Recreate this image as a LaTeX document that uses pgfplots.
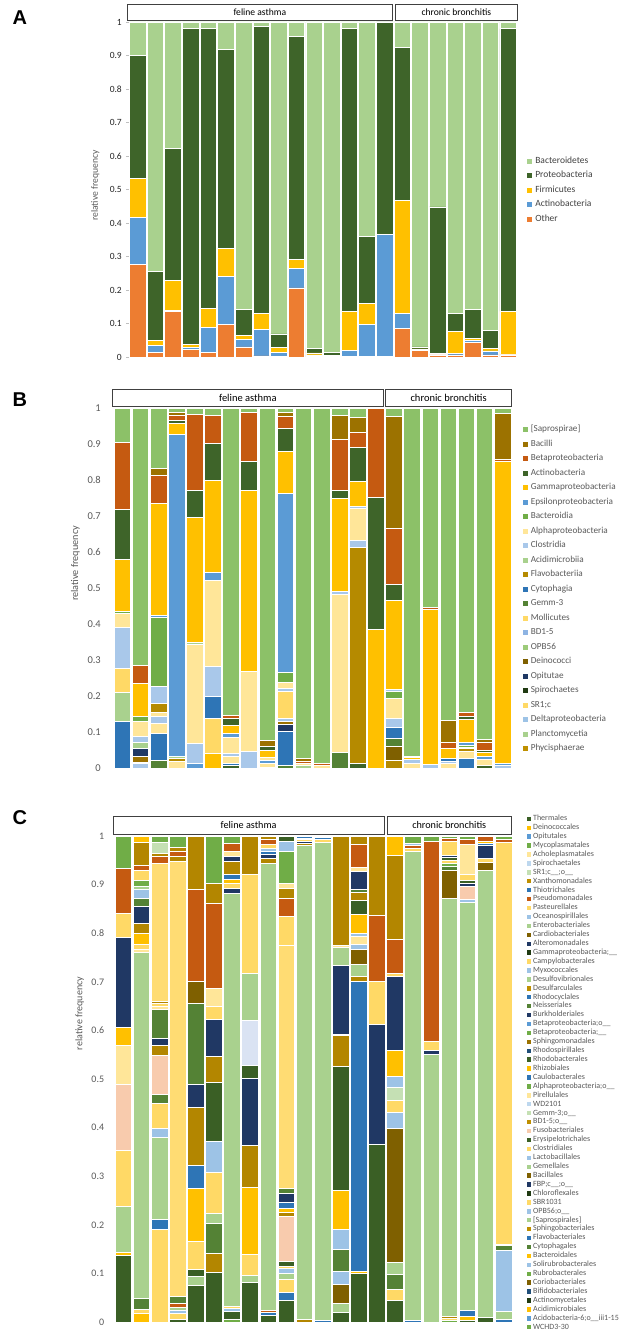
\documentclass[border=0pt]{standalone}
\usepackage{fontspec}
\setmainfont{Carlito}
\newfontfamily\labfont{Liberation Sans}
\usepackage{pgfplots}
\usepackage{pgfplotstable}
\pgfplotsset{compat=1.18}

% panel A
\definecolor{aBac}{HTML}{A9D18E}
\definecolor{aPro}{HTML}{3E6429}
\definecolor{aFir}{HTML}{FFC000}
\definecolor{aAct}{HTML}{5B9BD5}
\definecolor{aOth}{HTML}{ED7D31}
% panel B
\definecolor{bS}{HTML}{8CC168}
\definecolor{bBa}{HTML}{9C7200}
\definecolor{bBe}{HTML}{C55A11}
\definecolor{bAc}{HTML}{3E6429}
\definecolor{bGa}{HTML}{FFC000}
\definecolor{bEp}{HTML}{5B9BD5}
\definecolor{bBd}{HTML}{70AD47}
\definecolor{bAl}{HTML}{FFE699}
\definecolor{bCl}{HTML}{A9C8EA}
\definecolor{bAm}{HTML}{A9D18E}
\definecolor{bFl}{HTML}{B58A00}
\definecolor{bCy}{HTML}{2E75B6}
\definecolor{bGe}{HTML}{548235}
\definecolor{bMo}{HTML}{FFD966}
\definecolor{bBD}{HTML}{8EB4E3}
\definecolor{bOP}{HTML}{9DCB7A}
\definecolor{bDe}{HTML}{7F6000}
\definecolor{bOp}{HTML}{1F3864}
\definecolor{bSp}{HTML}{203A12}
\definecolor{bDl}{HTML}{9DC3E6}
\definecolor{bPh}{HTML}{BF9000}
% panel C
\definecolor{cLG}{HTML}{A9D18E}
\definecolor{cYl}{HTML}{FFD966}
\definecolor{cYa}{HTML}{FFDC73}
\definecolor{cGo}{HTML}{FFC000}
\definecolor{cNv}{HTML}{203864}
\definecolor{cDG}{HTML}{3A5F25}
\definecolor{cMG}{HTML}{548235}
\definecolor{cGr}{HTML}{70AD47}
\definecolor{cOr}{HTML}{C55A11}
\definecolor{cBr}{HTML}{B38600}
\definecolor{cBD}{HTML}{7F6000}
\definecolor{cPk}{HTML}{F8CBAD}
\definecolor{cLv}{HTML}{DAE3F3}
\definecolor{cBl}{HTML}{2E75B6}
\definecolor{cLB}{HTML}{9DC3E6}
\definecolor{cPY}{HTML}{FFE699}
\definecolor{cSG}{HTML}{C5E0B4}
\definecolor{cVD}{HTML}{203A12}
\definecolor{cBu}{HTML}{5B9BD5}
\definecolor{cPB}{HTML}{BDD7EE}
\definecolor{cDY}{HTML}{BF8F00}
\definecolor{cSt}{HTML}{1F4E79}
\definecolor{cOl}{HTML}{9C7200}
\definecolor{txt}{HTML}{595959}

\pgfplotsset{
  panel/.style={
    scale only axis, anchor=south west,
    xmin=-0.5, xmax=21.5, ymin=0, ymax=1,
    xtick=\empty, ytick={0,0.1,0.2,0.3,0.4,0.5,0.6,0.7,0.8,0.9,1},
    axis line style={draw=none}, major tick length=0pt,
    /pgf/number format/assume math mode=true,
    yticklabel style={anchor=east, inner sep=0pt, text=txt},
    clip=false, legend cell align=left,
  },
  seg/.style={ybar, bar shift=0pt, draw=white, line width=0.7pt, forget plot},
}

% one bar: list of colour/cumulative top, from the top segment down
\newcommand\stk[2]{%
  \foreach \c/\t in {#2}{%
    \edef\tmp{\noexpand\addplot[seg,fill=\c] coordinates {(#1,\t)};}\tmp}}
\newcommand\leg[2]{\addlegendimage{legend image code/.code={\fill[#1] (0pt,-1.9pt) rectangle (3.9pt,1.9pt);}}\addlegendentry{#2}}
\newcommand\legc[2]{\addlegendimage{legend image code/.code={\fill[#1] (0pt,-1.7pt) rectangle (3.4pt,1.7pt);}}\addlegendentry{#2}}

% panel A: phyla, bottom to top
\pgfplotstableread{
bar oth  act  fir  pro  bac
0   .277 .140 .116 .366 .101
1   .014 .020 .015 .206 .745
2   .136 .002 .091 .393 .378
3   .022 .007 .008 .943 .020
4   .014 .073 .058 .835 .020
5   .097 .144 .084 .593 .082
6   .030 .022 .012 .079 .857
7   .003 .080 .048 .857 .012
8   .002 .012 .015 .040 .931
9   .206 .059 .027 .666 .042
10  .002 .004 .006 .014 .974
11  .001 .001 .002 .010 .986
12  .002 .018 .115 .845 .020
13  .002 .094 .064 .199 .641
14  .002 .363 .001 .634 .000
15  .085 .045 .338 .455 .077
16  .020 .002 .002 .006 .970
17  .006 .002 .002 .438 .552
18  .006 .004 .067 .054 .869
19  .044 .006 .005 .088 .857
20  .006 .012 .008 .054 .920
21  .006 .001 .129 .844 .020
}\tabA

\begin{document}
\begin{tikzpicture}
\path[use as bounding box] (0,0) rectangle (624pt,1335pt);

% ---------------- A ----------------
\begin{axis}[panel, at={(129pt,978pt)}, width=388pt, height=335pt,
  ybar stacked, bar width=16.5pt,
  axis x line=none, axis y line*=left,
  y axis line style={draw=black!25}, ytick style={draw=black!25},
  major tick length=3pt, tick align=outside,
  yticklabel style={font=\fontsize{9.5}{11}\selectfont, text=black!85, xshift=-4pt},
  legend style={at={(1.0265,0.4985)}, anchor=west, draw=none, fill=none, inner sep=0pt,
    font=\fontsize{9.5}{11}\selectfont, text=black!75, row sep=5.5pt, column sep=3.5pt,
    nodes={inner sep=0pt, text height=7pt, text depth=2pt}},
]
\addplot[fill=aOth, draw=white, line width=0.7pt, forget plot] table[x=bar,y=oth] {\tabA};
\addplot[fill=aAct, draw=white, line width=0.7pt, forget plot] table[x=bar,y=act] {\tabA};
\addplot[fill=aFir, draw=white, line width=0.7pt, forget plot] table[x=bar,y=fir] {\tabA};
\addplot[fill=aPro, draw=white, line width=0.7pt, forget plot] table[x=bar,y=pro] {\tabA};
\addplot[fill=aBac, draw=white, line width=0.7pt, forget plot] table[x=bar,y=bac] {\tabA};
\leg{aBac}{Bacteroidetes}
\leg{aPro}{Proteobacteria}
\leg{aFir}{Firmicutes}
\leg{aAct}{Actinobacteria}
\leg{aOth}{Other}
\end{axis}

% ---------------- B ----------------
\begin{axis}[panel, at={(113.3pt,567pt)}, width=398.4pt, height=359.5pt,
  bar width=16.6pt,
  yticklabel style={font=\fontsize{10.5}{12}\selectfont, xshift=-12.3pt},
  legend style={at={(1.029,0.498)}, anchor=west, draw=none, fill=none, inner sep=0pt,
    font=\fontsize{9.2}{11}\selectfont, text=txt, row sep=5.5pt, column sep=3pt,
    nodes={inner sep=0pt, text height=7pt, text depth=2pt}},
]
\stk{0}{bS/1, bBe/.905, bAc/.720, bGa/.580, bBd/.437, bAl/.431, bCl/.392, bMo/.276, bAm/.2115, bCy/.131}
\stk{1}{bS/1, bBe/.286, bGa/.235, bBd/.143, bAl/.131, bCl/.088, bAm/.072, bOp/.054, bBa/.031, bAl/.017, bCl/.012}
\stk{2}{bS/1, bBa/.833, bBe/.813, bGa/.736, bEp/.425, bBd/.418, bCl/.227, bFl/.179, bAl/.156, bCl/.144, bAl/.123, bCy/.097, bGe/.021}
\stk{3}{bS/1, bBa/.989, bBe/.980, bAc/.966, bGa/.960, bEp/.929, bAm/.032, bFl/.026, bAl/.019}
\stk{4}{bS/1, bBe/.984, bAc/.771, bGa/.697, bAm/.349, bAl/.344, bCl/.068, bEp/.012}
\stk{5}{bS/1, bBe/.980, bAc/.904, bGa/.801, bEp/.544, bAl/.522, bCl/.283, bCy/.198, bMo/.137, bGa/.040}
\stk{6}{bS/1, bBe/.147, bAc/.137, bGa/.119, bEp/.096, bAl/.086, bCl/.040, bAl/.032, bCy/.012, bAc/.006}
\stk{7}{bS/1, bBe/.989, bAc/.852, bGa/.771, bAl/.269, bCl/.045}
\stk{8}{bS/1, bBa/.077, bAc/.061, bGa/.049, bAl/.029, bEp/.021, bAl/.012, bFl/.003}
\stk{9}{bS/1, bBa/.989, bBe/.979, bAc/.944, bGa/.882, bEp/.763, bBd/.265, bAl/.239, bCl/.221, bMo/.213, bCl/.139, bBa/.131, bOp/.122, bCy/.103, bGe/.007}
\stk{10}{bS/1, bBa/.026, bBe/.019, bAl/.014, bAm/.007}
\stk{11}{bS/1, bBe/.012, bAl/.007}
\stk{12}{bS/1, bBa/.980, bBe/.914, bAc/.771, bGa/.750, bCl/.490, bAl/.483, bGe/.043}
\stk{13}{bS/1, bBa/.975, bBe/.933, bAc/.891, bGa/.796, bCl/.728, bAl/.722, bCl/.634, bFl/.615, bAc/.012}
\stk{14}{bBe/1, bAc/.752, bGa/.386}
\stk{15}{bS/1, bBa/.977, bBe/.666, bAc/.511, bGa/.467, bCl/.218, bBd/.214, bAl/.193, bCl/.137, bCy/.112, bGe/.0835, bDe/.060, bFl/.021}
\stk{16}{bS/1, bAl/.033, bGa/.029, bCl/.024, bAl/.012}
\stk{17}{bS/1, bBe/.448, bGa/.441, bCl/.010}
\stk{18}{bS/1, bBa/.133, bBe/.070, bGa/.056, bCy/.026, bCl/.019, bAl/.012}
\stk{19}{bS/1, bBe/.156, bAc/.144, bGa/.136, bEp/.072, bBd/.063, bAm/.058, bFl/.054, bAl/.045, bCy/.026}
\stk{20}{bS/1, bBa/.080, bBe/.071, bAc/.049, bGa/.043, bEp/.031, bAl/.024, bAc/.007}
\stk{21}{bS/1, bBa/.986, bBe/.859, bGa/.852, bEp/.012, bCl/.006}
\leg{bS}{\relax[Saprospirae]}
\leg{bBa}{Bacilli}
\leg{bBe}{Betaproteobacteria}
\leg{bAc}{Actinobacteria}
\leg{bGa}{Gammaproteobacteria}
\leg{bEp}{Epsilonproteobacteria}
\leg{bBd}{Bacteroidia}
\leg{bAl}{Alphaproteobacteria}
\leg{bCl}{Clostridia}
\leg{bAm}{Acidimicrobiia}
\leg{bFl}{Flavobacteriia}
\leg{bCy}{Cytophagia}
\leg{bGe}{Gemm-3}
\leg{bMo}{Mollicutes}
\leg{bBD}{BD1-5}
\leg{bOP}{OPB56}
\leg{bDe}{Deinococci}
\leg{bOp}{Opitutae}
\leg{bSp}{Spirochaetes}
\leg{bMo}{SR1;c}
\leg{bDl}{Deltaproteobacteria}
\leg{bAm}{Planctomycetia}
\leg{bPh}{Phycisphaerae}
\end{axis}

% ---------------- C ----------------
\begin{axis}[panel, at={(114.3pt,13pt)}, width=398.4pt, height=486pt,
  bar width=16.6pt,
  yticklabel style={font=\fontsize{10}{12}\selectfont, xshift=-10pt},
  legend style={at={(1.035,0.5128)}, anchor=west, draw=none, fill=none, inner sep=0pt,
    font=\fontsize{8}{9}\selectfont, text=txt, row sep=1.12pt, column sep=2.5pt,
    nodes={inner sep=0pt, text height=6pt, text depth=1.8pt}},
]
\stk{0}{cGr/1, cOr/.934, cYl/.841, cNv/.791, cGo/.607, cPY/.569, cPk/.488, cYl/.353, cLG/.238, cGo/.144, cDG/.137}
\stk{1}{cGo/1, cBr/.987, cOr/.940, cYl/.929, cGr/.909, cLG/.896, cLB/.890, cMG/.872, cNv/.856, cBr/.821, cGo/.800, cYl/.778, cPY/.767, cLG/.760, cMG/.048, cYl/.026, cGo/.018}
\stk{2}{cGr/1, cSG/.987, cBr/.965, cOr/.959, cYa/.943, cBr/.660, cYl/.655, cPY/.649, cMG/.643, cNv/.584, cBr/.570, cPk/.549, cMG/.469, cYl/.449, cLB/.398, cLG/.380, cBl/.211, cYl/.190}
\stk{3}{cGr/1, cBr/.977, cOr/.969, cBr/.958, cYa/.947, cMG/.053, cOr/.039, cLG/.031, cLB/.024, cYl/.017, cDG/.006}
\stk{4}{cBr/1, cOr/.890, cBD/.700, cMG/.656, cNv/.488, cBr/.442, cBl/.322, cGo/.275, cYl/.166, cDG/.109, cLG/.093, cDG/.075}
\stk{5}{cGr/1, cBr/.903, cOr/.861, cPY/.687, cYl/.649, cNv/.622, cBr/.547, cDG/.493, cLB/.371, cYl/.307, cLG/.224, cMG/.202, cBr/.142, cDG/.102}
\stk{6}{cGr/1, cOr/.985, cPY/.968, cNv/.958, cBr/.948, cBl/.921, cGo/.911, cYl/.902, cNv/.893, cLG/.883, cYl/.033, cLB/.028, cDG/.022, cGr/.006}
\stk{7}{cBr/1, cYl/.922, cLG/.718, cLv/.620, cDG/.529, cNv/.501, cBr/.364, cGo/.278, cYl/.140, cLG/.097, cDG/.082}
\stk{8}{cBr/1, cOr/.994, cYl/.982, cLB/.975, cBl/.969, cNv/.962, cBr/.953, cLG/.943, cOr/.024, cBl/.020, cDG/.013}
\stk{9}{cDG/1, cLB/.989, cGr/.969, cPY/.903, cBr/.892, cOr/.872, cYl/.834, cYa/.775, cMG/.275, cNv/.265, cBl/.247, cGo/.233, cBr/.226, cPk/.218, cDG/.124, cYl/.115, cLB/.110, cLG/.100, cYl/.087, cBl/.060, cDG/.044}
\stk{10}{cBl/1, cNv/.996, cYl/.993, cNv/.990, cBr/.985, cLG/.980, cBr/.006}
\stk{11}{cYl/1, cBl/.998, cYl/.994, cLG/.987, cBl/.004}
\stk{12}{cBr/1, cPY/.776, cLG/.771, cNv/.733, cLB/.592, cBr/.589, cDG/.527, cGo/.270, cLB/.191, cMG/.149, cLB/.104, cBD/.078, cLG/.039, cDG/.019}
\stk{13}{cBr/1, cOr/.983, cPY/.936, cNv/.927, cMG/.890, cBr/.885, cDG/.868, cGo/.838, cLB/.800, cPY/.794, cLB/.778, cBD/.767, cLG/.735, cBr/.711, cBl/.700, cGo/.104, cDG/.100}
\stk{14}{cBr/1, cOr/.836, cYl/.700, cNv/.613, cDG/.366}
\stk{15}{cGo/1, cBr/.960, cOr/.787, cYl/.718, cNv/.712, cGo/.558, cLB/.505, cSG/.482, cYl/.456, cLB/.431, cBD/.398, cLG/.122, cMG/.098, cYl/.068, cDG/.044}
\stk{16}{cGr/1, cLB/.984, cOr/.980, cYl/.975, cLG/.969, cBl/.004}
\stk{17}{cGr/1, cOr/.990, cYl/.578, cNv/.558, cLG/.551}
\stk{18}{cGr/1, cOr/.996, cYl/.990, cNv/.960, cDG/.956, cYl/.950, cGr/.943, cMG/.937, cBD/.930, cLG/.871, cBr/.012, cYl/.008, cGr/.004}
\stk{19}{cGr/1, cOr/.994, cPY/.983, cYl/.922, cDG/.909, cNv/.903, cPk/.897, cLB/.869, cLG/.864, cBl/.024, cGo/.012, cDG/.004}
\stk{20}{cOr/1, cGo/.990, cBl/.985, cNv/.980, cYl/.955, cBD/.945, cLG/.930, cDG/.009}
\stk{21}{cGr/1, cOr/.994, cYl/.987, cDG/.160, cMG/.157, cLB/.148, cLG/.022, cBl/.006}
\legc{cDG}{Thermales}
\legc{cGo}{Deinococcales}
\legc{cBu}{Opitutales}
\legc{cGr}{Mycoplasmatales}
\legc{cPY}{Acholeplasmatales}
\legc{cPB}{Spirochaetales}
\legc{cSG}{SR1;c\_\_;o\_\_}
\legc{cDY}{Xanthomonadales}
\legc{cBl}{Thiotrichales}
\legc{cOr}{Pseudomonadales}
\legc{cYl}{Pasteurellales}
\legc{cLB}{Oceanospirillales}
\legc{cLG}{Enterobacteriales}
\legc{cBD}{Cardiobacteriales}
\legc{cNv}{Alteromonadales}
\legc{cVD}{Gammaproteobacteria;\_\_}
\legc{cYl}{Campylobacterales}
\legc{cLB}{Myxococcales}
\legc{cLG}{Desulfovibrionales}
\legc{cDY}{Desulfarculales}
\legc{cBl}{Rhodocyclales}
\legc{cMG}{Neisseriales}
\legc{cNv}{Burkholderiales}
\legc{cBu}{Betaproteobacteria;o\_\_}
\legc{cGr}{Betaproteobacteria;\_\_}
\legc{cOl}{Sphingomonadales}
\legc{cSt}{Rhodospirillales}
\legc{cDG}{Rhodobacterales}
\legc{cGo}{Rhizobiales}
\legc{cBl}{Caulobacterales}
\legc{cGr}{Alphaproteobacteria;o\_\_}
\legc{cPY}{Pirellulales}
\legc{cPB}{WD2101}
\legc{cSG}{Gemm-3;o\_\_}
\legc{cDY}{BD1-5;o\_\_}
\legc{cPk}{Fusobacteriales}
\legc{cDG}{Erysipelotrichales}
\legc{cYl}{Clostridiales}
\legc{cLB}{Lactobacillales}
\legc{cLG}{Gemellales}
\legc{cBD}{Bacillales}
\legc{cNv}{FBP;c\_\_;o\_\_}
\legc{cVD}{Chloroflexales}
\legc{cYl}{SBR1031}
\legc{cLB}{OPB56;o\_\_}
\legc{cLG}{\relax[Saprospirales]}
\legc{cDY}{Sphingobacteriales}
\legc{cBl}{Flavobacteriales}
\legc{cMG}{Cytophagales}
\legc{cGo}{Bacteroidales}
\legc{cLB}{Solirubrobacterales}
\legc{cGr}{Rubrobacterales}
\legc{cBD}{Coriobacteriales}
\legc{cSt}{Bifidobacteriales}
\legc{cVD}{Actinomycetales}
\legc{cGo}{Acidimicrobiales}
\legc{cBu}{Acidobacteria-6;o\_\_iii1-15}
\legc{cGr}{WCHD3-30}
\end{axis}

% group boxes
\tikzset{grp/.style={draw=black!75, line width=0.8pt}}
\draw[grp] (127.7pt,1315pt) rectangle (392pt,1331pt);
\draw[grp] (395pt,1315pt) rectangle (517.7pt,1331pt);
\node[font=\fontsize{9.6}{11}\selectfont] at (259.85pt,1323pt) {feline asthma};
\node[font=\fontsize{9.6}{11}\selectfont] at (456.35pt,1323pt) {chronic bronchitis};
\draw[grp] (112.7pt,929pt) rectangle (383pt,945.7pt);
\draw[grp] (385.5pt,929pt) rectangle (511.7pt,945.7pt);
\node[font=\fontsize{10.5}{12}\selectfont] at (247.85pt,937.35pt) {feline asthma};
\node[font=\fontsize{10.5}{12}\selectfont] at (448.6pt,937.35pt) {chronic bronchitis};
\draw[grp] (113.3pt,501pt) rectangle (384pt,518.3pt);
\draw[grp] (387pt,501pt) rectangle (511.5pt,518.3pt);
\node[font=\fontsize{10.2}{12}\selectfont] at (248.65pt,509.65pt) {feline asthma};
\node[font=\fontsize{10.2}{12}\selectfont] at (449.25pt,509.65pt) {chronic bronchitis};

% axis titles
\node[rotate=90, font=\fontsize{9.6}{11}\selectfont, text=txt] at (95.2pt,1149.5pt) {relative frequency};
\node[rotate=90, font=\fontsize{10.2}{12}\selectfont, text=txt] at (75.4pt,771.5pt) {relative frequency};
\node[rotate=90, font=\fontsize{10}{12}\selectfont, text=txt] at (79.8pt,321.4pt) {relative frequency};

% panel letters
\node[anchor=base west, inner sep=0pt, font=\labfont\bfseries\fontsize{20}{20}\selectfont] at (12.5pt,1310pt) {A};
\node[anchor=base west, inner sep=0pt, font=\labfont\bfseries\fontsize{20}{20}\selectfont] at (12.5pt,928pt) {B};
\node[anchor=base west, inner sep=0pt, font=\labfont\bfseries\fontsize{20}{20}\selectfont] at (12.5pt,510pt) {C};
\end{tikzpicture}
\end{document}
